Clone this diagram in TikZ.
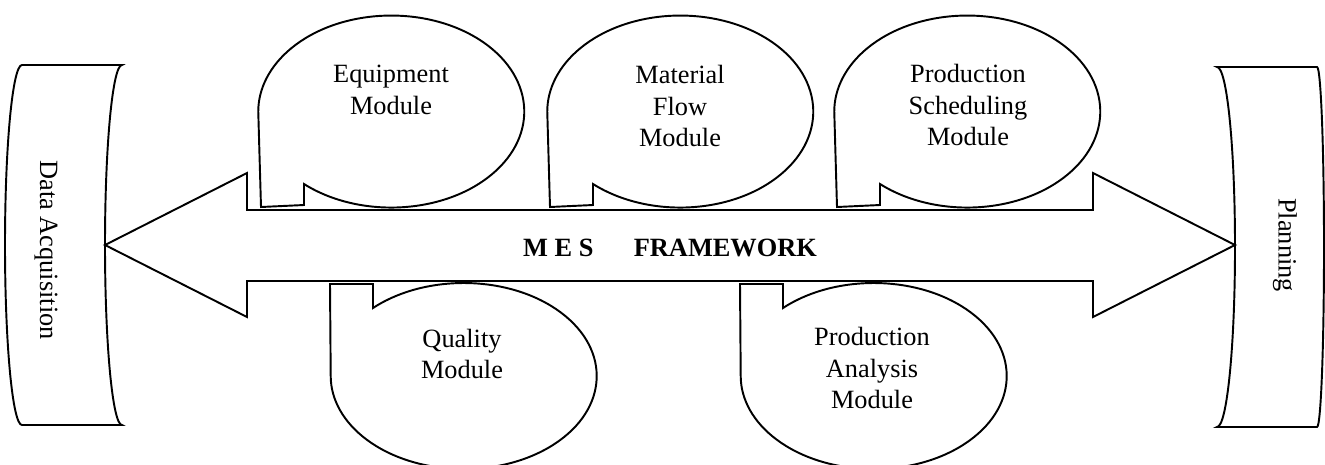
\documentclass[tikz,border=0pt]{standalone}
\usepackage{fontspec}
\setmainfont{Liberation Serif}

\begin{document}
\begin{tikzpicture}[x=0.02cm, y=0.02cm, line width=1.1pt,
  outline/.style={draw, fill=white, line join=miter},
  modtext/.style={align=center, font=\fontsize{15}{18}\selectfont},
  sidetext/.style={rotate=-90, font=\fontsize{15}{18}\selectfont}]
\useasboundingbox (0,0) rectangle (1325,-464);

% side boxes
\draw[outline] (22,-65) -- (122,-65) arc[start angle=90, end angle=270, x radius=17, y radius=180]
  -- (22,-425) arc[start angle=270, end angle=90, x radius=17, y radius=180] -- cycle;
\draw[outline] (1217,-67) -- (1317,-67) arc[start angle=90, end angle=-90, x radius=7, y radius=180]
  -- (1217,-427) arc[start angle=-90, end angle=90, x radius=18, y radius=180] -- cycle;

% framework arrow
\draw[outline] (105,-245) -- (247,-173) -- (247,-210) -- (1093,-210) -- (1093,-173) -- (1235,-245)
  -- (1093,-317) -- (1093,-281) -- (247,-281) -- (247,-317) -- cycle;

% upper callouts
\draw[outline] (304,-184) arc[start angle=229, end angle=540, x radius=133, y radius=96] -- (261,-207) -- (304,-205) -- cycle;
\draw[outline] (593,-184) arc[start angle=229, end angle=540, x radius=133, y radius=96] -- (550,-207) -- (593,-205) -- cycle;
\draw[outline] (880,-184) arc[start angle=229, end angle=540, x radius=133, y radius=96] -- (837,-207) -- (880,-205) -- cycle;

% lower callouts
\draw[outline] (373,-308) arc[start angle=133, end angle=-180, x radius=133, y radius=93] -- (330,-284) -- (373,-284) -- cycle;
\draw[outline] (783,-308) arc[start angle=133, end angle=-180, x radius=133, y radius=93] -- (740,-284) -- (783,-284) -- cycle;

\node[modtext] (equip) at (391,-90) {Equipment\\Module};
\node[modtext] (matflow) at (680,-106) {Material\\Flow\\Module};
\node[modtext] (sched) at (968,-105) {Production\\Scheduling\\Module};
\node[modtext] (quality) at (462,-354) {Quality\\Module};
\node[modtext] (analysis) at (872,-368) {Production\\Analysis\\Module};

\node[font=\bfseries\fontsize{15}{18}\selectfont] (mes) at (670,-248) {M E S\hspace{23pt}FRAMEWORK};

\node[sidetext] (dataacq) at (46,-250) {Data Acquisition};
\node[sidetext] (planning) at (1285,-245) {Planning};
\end{tikzpicture}
\end{document}
